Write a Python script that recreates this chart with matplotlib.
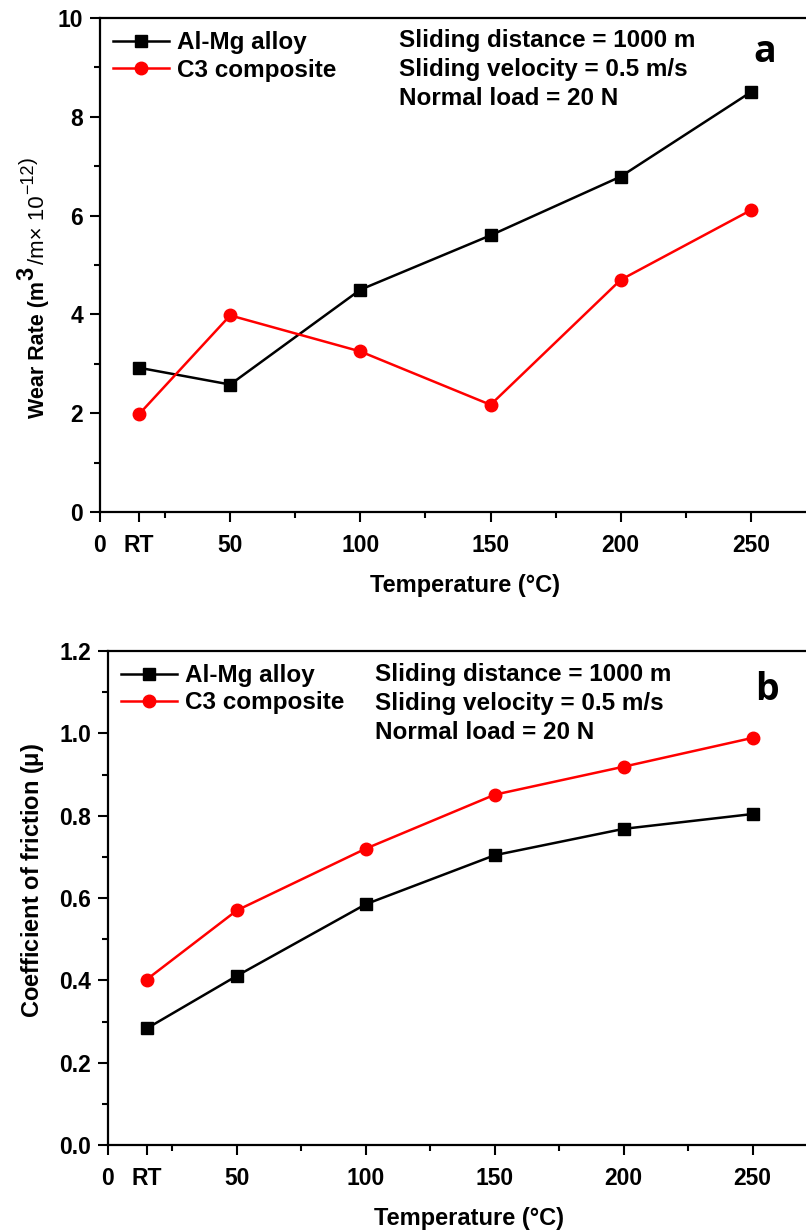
import numpy as np
import matplotlib
matplotlib.use('Agg')
import matplotlib.pyplot as plt
from matplotlib.ticker import MultipleLocator

plt.rcParams['font.family'] = ['Liberation Sans', 'DejaVu Sans']
plt.rcParams['font.weight'] = 'bold'
plt.rcParams['mathtext.fontset'] = 'custom'
plt.rcParams['mathtext.rm'] = 'Liberation Sans'
plt.rcParams['mathtext.it'] = 'Liberation Sans'
plt.rcParams['mathtext.bf'] = 'Liberation Sans:bold'

# temperatures: RT drawn at ~15 on the axis
temps = [15, 50, 100, 150, 200, 250]
tick_pos = [0, 15, 50, 100, 150, 200, 250]
tick_lab = ['0', 'RT', '50', '100', '150', '200', '250']

wear_almg = [2.92, 2.58, 4.50, 5.60, 6.79, 8.50]
wear_c3 = [1.98, 3.98, 3.25, 2.17, 4.70, 6.11]

cof_almg = [0.283, 0.411, 0.585, 0.704, 0.768, 0.804]
cof_c3 = [0.402, 0.570, 0.720, 0.851, 0.919, 0.989]

conditions = ['Sliding distance = 1000 m',
              'Sliding velocity = 0.5 m/s',
              'Normal load = 20 N']

tick_font = ['Liberation Sans Narrow', 'Liberation Sans', 'DejaVu Sans']

fig = plt.figure(figsize=(8.06, 12.30), dpi=100)


def style_axis(ax, ylim, ymajor, yminor, yfmt):
    ax.set_xlim(0, 280)
    ax.set_ylim(*ylim)
    ax.spines['right'].set_visible(False)
    for s in ax.spines.values():
        s.set_linewidth(1.6)
    ax.set_xticks(tick_pos)
    ax.set_xticklabels(tick_lab)
    ax.xaxis.set_minor_locator(MultipleLocator(25))
    ax.yaxis.set_major_locator(MultipleLocator(ymajor))
    ax.yaxis.set_major_formatter(plt.FormatStrFormatter(yfmt))
    ax.yaxis.set_minor_locator(MultipleLocator(yminor))
    ax.tick_params(which='major', direction='out', length=7, width=1.5,
                   labelsize=16.5, top=False, right=False)
    ax.tick_params(axis='x', which='major', pad=9)
    ax.tick_params(axis='y', which='major', pad=5)
    ax.tick_params(which='minor', direction='out', length=4, width=1.5,
                   top=False, right=False)
    for lab in ax.get_xticklabels() + ax.get_yticklabels():
        lab.set_family(tick_font)
        lab.set_fontweight('bold')
    ax.set_xlabel('Temperature (°C)', fontsize=17, fontweight='bold',
                  family=tick_font, labelpad=12)


def draw(ax, y1, y2, letter, tx, ty, ly):
    ax.plot(temps, y1, '-s', color='black', lw=1.8, markersize=8,
            label='Al-Mg alloy')
    ax.plot(temps, y2, '-o', color='red', lw=1.8, markersize=9,
            label='C3 composite')
    ax.legend(loc='upper left', frameon=False, fontsize=17.5,
              handlelength=2.3, handletextpad=0.3, labelspacing=0.17,
              borderaxespad=0.3, borderpad=0.25)
    for i, t in enumerate(conditions):
        ax.text(tx, ty - i * 0.0587, t, transform=ax.transAxes,
                fontsize=17.5, fontweight='bold', va='top', ha='left')
    ax.text(0.912, ly, letter, transform=ax.transAxes, fontsize=27,
            fontweight='bold', va='center', ha='center',
            family=['Open Sans', 'Liberation Sans'])


ax1 = fig.add_axes([100 / 806, 718 / 1230, 729 / 806, 494 / 1230])
style_axis(ax1, (0, 10), 2, 1, '%d')
draw(ax1, wear_almg, wear_c3, 'a', 0.41, 0.978, 0.931)

# y label of the top panel built from pieces (large bold superscript 3,
# lighter "/m x 10^-12" part), stacked upward along a rotated baseline
renderer = fig.canvas.get_renderer()
label_parts = [('Wear Rate (m', 15.5, 'bold', 0, 1),
               ('3', 17, 'bold', 11, 3),
               ('/m× 10', 16, 'normal', 0, 1),
               ('−12', 13, 'normal', 11, 0),
               (')', 15, 'normal', 10, 0)]
bx, by = 44, 418
for txt, size, weight, lift, gap in label_parts:
    t = fig.text((bx - lift) / 806, 1 - by / 1230, txt, rotation=90,
                 rotation_mode='anchor', ha='left', va='baseline',
                 fontsize=size, fontweight=weight)
    ext = t.get_window_extent(renderer)
    by -= ext.height + gap

ax2 = fig.add_axes([108 / 806, 85 / 1230, 722 / 806, 494 / 1230])
style_axis(ax2, (0, 1.2), 0.2, 0.1, '%.1f')
draw(ax2, cof_almg, cof_c3, 'b', 0.37, 0.975, 0.921)
ax2.set_ylabel(r'Coefficient of friction ($\mathrm{\mu}$)', fontsize=17,
               fontweight='bold')
ax2.yaxis.set_label_coords(-0.086, 0.536)

fig.savefig('out.png', dpi=100)
